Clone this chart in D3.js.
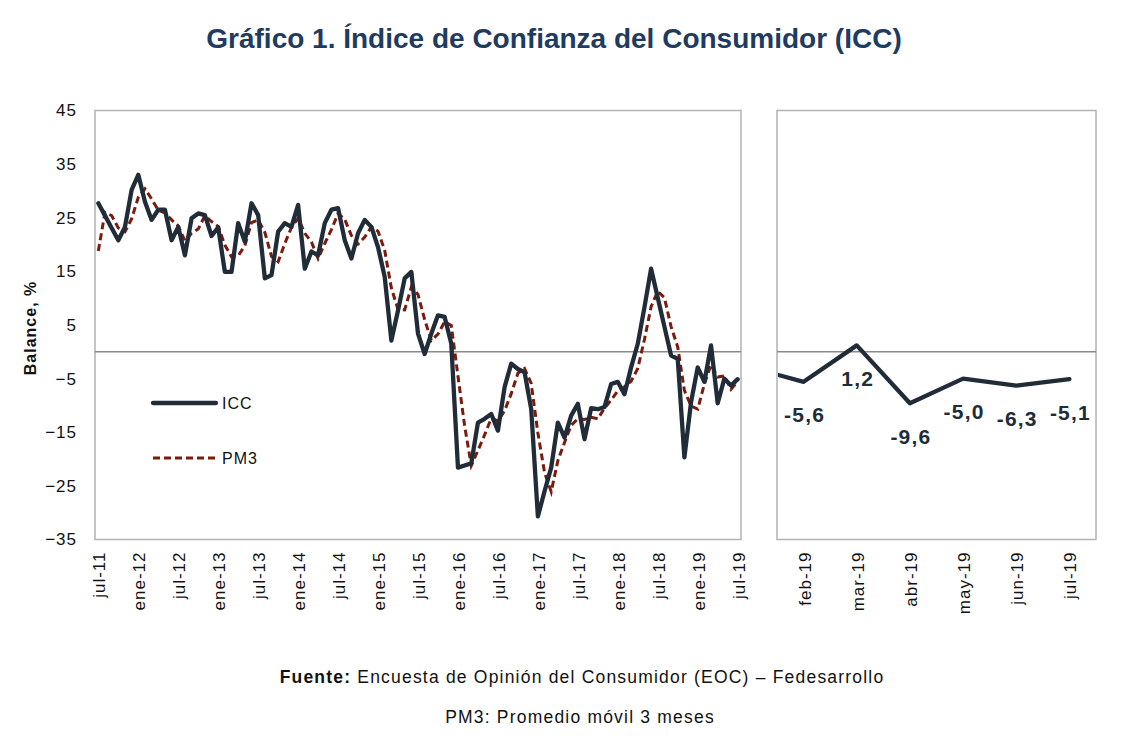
<!DOCTYPE html>
<html>
<head>
<meta charset="utf-8">
<script src="https://cdn.jsdelivr.net/npm/d3@7"></script>
<style>
  html, body { margin: 0; padding: 0; background: #ffffff; }
  svg { display: block; font-family: "Liberation Sans", Arial, Helvetica, sans-serif; }
</style>
</head>
<body>
<svg id="chart" width="1121" height="751"></svg>
<script>
// ---------- DATA ----------
const monthNames = ["ene","feb","mar","abr","may","jun","jul","ago","sep","oct","nov","dic"];
// ICC monthly, jul-11 ... jul-19
const iccValues = [
  27.7, 25.4, 23.1, 20.8, 23.3, 30.2,              // jul-11..dic-11
  33.0, 28.0, 24.6, 26.5, 26.5, 20.8, 23.3, 18.0, 24.9, 25.8, 25.5, 21.6, // 2012
  23.2, 14.9, 14.9, 24.0, 20.5, 27.7, 25.5, 13.7, 14.3, 22.4, 24.0, 23.3, // 2013
  27.4, 15.5, 18.7, 18.0, 24.0, 26.5, 26.8, 20.8, 17.4, 22.1, 24.6, 23.3, // 2014
  19.5, 14.0, 2.1, 7.7, 13.7, 14.9, 3.4, -0.4, 3.4, 6.8, 6.5, 1.5,        // 2015
  -21.6, -21.2, -20.8, -13.2, -12.5, -11.6, -14.7, -6.6, -2.2, -3.2, -3.8, -10.7, // 2016
  -30.7, -26.0, -21.6, -13.2, -16.0, -11.9, -9.7, -16.3, -10.5, -10.7, -10.3, -6.0, // 2017
  -5.6, -7.9, -2.9, 1.5, 8.3, 15.5, 10.1, 4.7, -0.7, -1.3, -19.7, -9.4,   // 2018
  -2.9, -5.6, 1.2, -9.6, -5.0, -6.3, -5.1                                 // 2019
];
// PM3 (3-month moving average) as drawn, jul-11 ... jul-19
const pm3Values = [
  18.8, 26.0, 25.4, 23.1, 22.4, 24.8,
  28.8, 30.4, 28.5, 26.4, 25.9, 24.6, 23.5, 20.7, 22.1, 22.9, 25.4, 24.3,
  23.4, 19.9, 17.7, 17.9, 19.8, 24.1, 24.6, 22.3, 17.8, 16.8, 20.2, 23.2,
  24.9, 22.1, 20.5, 17.4, 20.2, 22.8, 25.8, 24.7, 21.7, 20.1, 21.4, 23.3,
  22.5, 18.9, 11.9, 7.9, 7.8, 12.1, 10.7, 6.0, 2.1, 3.3, 5.6, 4.9,
  -4.5, -13.8, -21.2, -18.4, -15.5, -12.4, -12.9, -11.0, -7.8, -4.0, -3.1, -5.9,
  -15.1, -22.5, -26.1, -20.3, -16.9, -13.7, -12.5, -12.6, -12.2, -12.5, -10.5, -9.0,
  -7.3, -6.5, -5.5, -3.1, 2.3, 8.4, 11.3, 10.1, 4.7, 0.9, -7.2, -10.1,
  -10.7, -6.0, -2.4, -4.7, -4.5, -7.0, -5.5
];
// Right panel: last six months
const zoomCats = ["feb-19","mar-19","abr-19","may-19","jun-19","jul-19"];
const zoomValues = [-5.6, 1.2, -9.6, -5.0, -6.3, -5.1];
const zoomLabels = ["-5,6", "1,2", "-9,6", "-5,0", "-6,3", "-5,1"];
const zoomPrev = { cat: "ene-19", value: -2.9 };
const yTicks = [-35, -25, -15, -5, 5, 15, 25, 35, 45];

// month categories jul-11 .. jul-19
const months = [];
for (let k = 0; k < iccValues.length; k++) {
  const m = (6 + k) % 12;
  const yr = 11 + Math.floor((6 + k) / 12);
  months.push(monthNames[m] + "-" + String(yr).padStart(2, "0"));
}
const leftTicks = months.filter((d, i) => i % 6 === 0);

// ---------- LAYOUT ----------
const svg = d3.select("#chart");
const font = '"Liberation Sans", Arial, Helvetica, sans-serif';
const cICC = "#212c39", cPM3 = "#7c1a0d", cGrid = "#b3b3b3", cText = "#111111";

const plotTop = 110.5, plotBottom = 539.5;
const L = { x0: 95, x1: 741 };
const R = { x0: 777, x1: 1096 };

const y = d3.scaleLinear().domain([-35, 45]).range([plotBottom, plotTop]);
const xL = d3.scaleBand().domain(months).range([L.x0, L.x1]);
const xR = d3.scaleBand().domain(zoomCats).range([R.x0, R.x1]);
const cxL = d => xL(d) + xL.bandwidth() / 2;
const cxR = d => xR(d) + xR.bandwidth() / 2;

// Title
svg.append("text")
  .attr("x", 554).attr("y", 48)
  .attr("text-anchor", "middle")
  .style("font-size", "28px").style("font-weight", "bold")
  .style("fill", "#1f3b60")
  .text("Gráfico 1. Índice de Confianza del Consumidor (ICC)");

// Panels (frames)
[L, R].forEach(p => {
  svg.append("rect")
    .attr("x", p.x0).attr("y", plotTop)
    .attr("width", p.x1 - p.x0).attr("height", plotBottom - plotTop)
    .attr("fill", "none").attr("stroke", cGrid).attr("stroke-width", 1.5);
  svg.append("line")
    .attr("x1", p.x0).attr("x2", p.x1)
    .attr("y1", y(0)).attr("y2", y(0))
    .attr("stroke", "#8a8a8a").attr("stroke-width", 1.5);
});

// Y axis
const yAxis = svg.append("g")
  .attr("transform", `translate(${L.x0},0)`)
  .call(d3.axisLeft(y).tickValues(yTicks).tickSize(0).tickPadding(18));
yAxis.select(".domain").remove();
yAxis.selectAll("text")
  .style("font-size", "17px").style("letter-spacing", "1px")
  .style("font-family", font).style("fill", cText);

// Y axis title
svg.append("text")
  .attr("transform", "translate(36,328) rotate(-90)")
  .attr("text-anchor", "middle")
  .style("font-size", "16px").style("letter-spacing", "1px")
  .style("font-weight", "bold").style("fill", cText)
  .text("Balance, %");

// X axis
function styleX(g) {
  g.select(".domain").remove();
  g.selectAll("text")
    .attr("transform", "rotate(-90)")
    .attr("x", -12).attr("y", 1).attr("dy", "0.35em")
    .style("text-anchor", "end")
    .style("font-size", "17px").style("letter-spacing", "1px")
    .style("font-family", font).style("fill", cText);
}
svg.append("g")
  .attr("transform", `translate(0,${plotBottom})`)
  .call(d3.axisBottom(xL).tickValues(leftTicks).tickSize(0))
  .call(styleX);
svg.append("g")
  .attr("transform", `translate(0,${plotBottom})`)
  .call(d3.axisBottom(xR).tickSize(0))
  .call(styleX);

// Lines left panel
const lineL = d3.line().x(d => cxL(d.m)).y(d => y(d.v));
svg.append("path")
  .datum(months.map((m, i) => ({ m, v: pm3Values[i] })))
  .attr("d", lineL)
  .attr("fill", "none").attr("stroke", cPM3)
  .attr("stroke-width", 3).attr("stroke-dasharray", "7,4");
svg.append("path")
  .datum(months.map((m, i) => ({ m, v: iccValues[i] })))
  .attr("d", lineL)
  .attr("fill", "none").attr("stroke", cICC)
  .attr("stroke-width", 4.3).attr("stroke-linejoin", "round").attr("stroke-linecap", "round");

// Right panel line (enters from previous month, clipped)
svg.append("clipPath").attr("id", "clipR")
  .append("rect").attr("x", R.x0 + 1).attr("y", plotTop).attr("width", R.x1 - R.x0 - 1).attr("height", plotBottom - plotTop);
const rPts = [{ x: cxR(zoomCats[0]) - xR.step(), v: zoomPrev.value }]
  .concat(zoomCats.map((c, i) => ({ x: cxR(c), v: zoomValues[i] })));
svg.append("path")
  .datum(rPts)
  .attr("clip-path", "url(#clipR)")
  .attr("d", d3.line().x(d => d.x).y(d => y(d.v)))
  .attr("fill", "none").attr("stroke", cICC)
  .attr("stroke-width", 4.3).attr("stroke-linejoin", "round").attr("stroke-linecap", "round");

// Data labels
svg.append("g").selectAll("text")
  .data(zoomCats)
  .join("text")
  .attr("x", d => cxR(d) + 1)
  .attr("y", (d, i) => y(zoomValues[i]) + 33)
  .attr("dy", "0.36em")
  .attr("text-anchor", "middle")
  .style("font-size", "21px").style("letter-spacing", "1.2px")
  .style("font-weight", "bold").style("fill", cICC)
  .text((d, i) => zoomLabels[i]);

// Legend
const leg = svg.append("g");
leg.append("line").attr("x1", 153).attr("x2", 216).attr("y1", 403).attr("y2", 403)
  .attr("stroke", cICC).attr("stroke-width", 4.3).attr("stroke-linecap", "round");
leg.append("text").attr("x", 222).attr("y", 403).attr("dy", "0.36em")
  .style("font-size", "16px").style("letter-spacing", "1px")
  .style("fill", cText).text("ICC");
leg.append("line").attr("x1", 153).attr("x2", 216).attr("y1", 458).attr("y2", 458)
  .attr("stroke", cPM3).attr("stroke-width", 3).attr("stroke-dasharray", "7,4");
leg.append("text").attr("x", 222).attr("y", 458).attr("dy", "0.36em")
  .style("font-size", "16px").style("letter-spacing", "1px")
  .style("fill", cText).text("PM3");

// Footer
const f1 = svg.append("text").attr("x", 582).attr("y", 683).attr("text-anchor", "middle")
  .style("font-size", "17.5px").style("letter-spacing", "1.2px").style("fill", cText);
f1.append("tspan").style("font-weight", "bold").text("Fuente:");
f1.append("tspan").text(" Encuesta de Opinión del Consumidor (EOC) – Fedesarrollo");
svg.append("text").attr("x", 580).attr("y", 723).attr("text-anchor", "middle")
  .style("font-size", "17.5px").style("letter-spacing", "1.2px").style("fill", cText)
  .text("PM3: Promedio móvil 3 meses");
</script>
</body>
</html>
